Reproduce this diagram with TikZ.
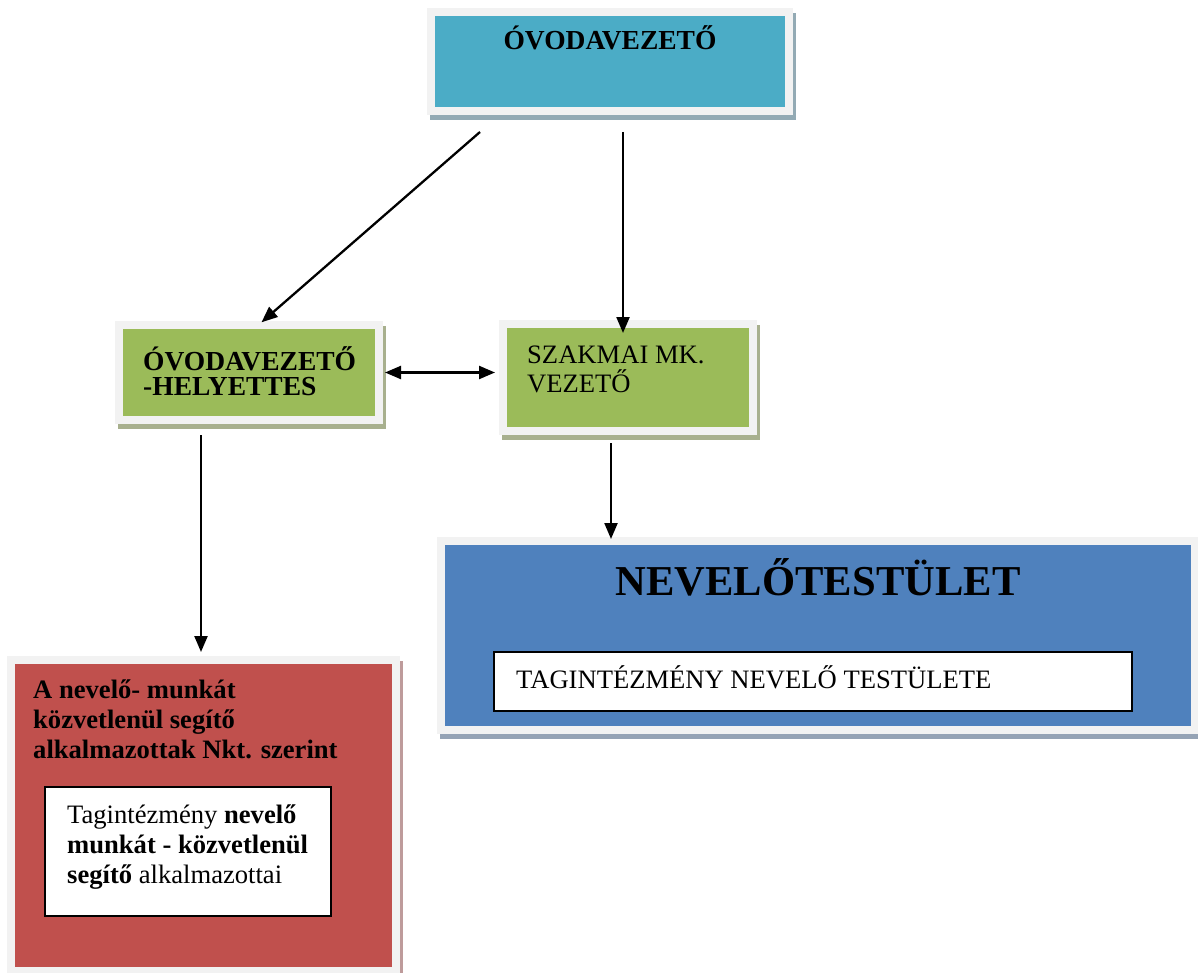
\documentclass[tikz,border=0pt]{standalone}
\usepackage{fontspec}
\setmainfont{Liberation Serif}
\usetikzlibrary{
    arrows.meta,
    shadows
}
\definecolor{FrameGray}{RGB}{242,242,242}
\definecolor{VezTeal}{RGB}{75,172,198}
\definecolor{VezShadow}{RGB}{147,170,180}
\definecolor{MkGreen}{RGB}{155,187,89}
\definecolor{MkShadow}{RGB}{168,176,142}
\definecolor{TestBlue}{RGB}{79,129,189}
\definecolor{TestShadow}{RGB}{149,163,181}
\definecolor{SegRed}{RGB}{192,80,77}
\definecolor{SegShadow}{RGB}{190,155,155}
\newcommand{\txtsize}[1]{\fontsize{26.6}{#1}\selectfont}

\begin{document}
\begin{tikzpicture}[
    x=1pt, y=-1pt,
    >={Triangle[length=16pt,width=13pt]},
    framebox/.style 2 args={
        rectangle, inner sep=0pt, outer sep=0pt, fill=FrameGray,
        general shadow={fill=#2, shadow xshift=3pt, shadow yshift=-5pt},
        path picture={\fill[#1]
            ([shift={(8pt,-8pt)}]path picture bounding box.north west) rectangle
            ([shift={(-8pt,8pt)}]path picture bounding box.south east);}
    },
    innerbox/.style={rectangle, draw=black, line width=1.5pt, fill=white, inner sep=0pt},
    boxtext/.style={inner sep=0pt, align=left, anchor=base west},
    conn/.style={->, line width=2.3pt}
]

\useasboundingbox (0,0) rectangle (1198,973);

\node[framebox={VezTeal}{VezShadow}, minimum width=366pt, minimum height=107pt]
    (vez) at (610,61.5) {};
\node[framebox={MkGreen}{MkShadow}, minimum width=268pt, minimum height=103pt]
    (hely) at (249,372.5) {};
\node[framebox={MkGreen}{MkShadow}, minimum width=258pt, minimum height=115pt]
    (szak) at (628,377.5) {};
\node[framebox={TestBlue}{TestShadow}, minimum width=762pt, minimum height=197pt]
    (nev) at (818,635.5) {};
\node[framebox={SegRed}{SegShadow}, minimum width=393pt, minimum height=319pt]
    (seg) at (203.5,815.5) {};

\node[innerbox, minimum width=638pt, minimum height=59pt]
    (nevtag) at (813,681.5) {};
\node[innerbox, minimum width=286pt, minimum height=129pt]
    (segtag) at (188,851.5) {};

\coordinate (vezL) at (480,132);
\coordinate (vezR) at (623,132);
\coordinate (helyD) at (201,435);
\coordinate (szakD) at (611,443);

\draw[conn, shorten >=-2pt]
    (vezL) -- ([xshift=14pt]hely.north);

\draw[conn, shorten >=-13pt]
    (vezR) -- (vezR |- szak.north);

\draw[conn, <->, shorten <=2pt, shorten >=4pt]
    (hely.east) -- (hely.east -| szak.west);

\draw[conn, shorten >=-2pt]
    (szakD) -- (szakD |- nev.north);

\draw[conn, shorten >=4pt]
    (helyD) -- (helyD |- seg.north);

\node[boxtext, anchor=base, font=\bfseries\fontsize{27.5}{30}\selectfont]
    (veztxt) at (610,50) {ÓVODAVEZETŐ};
\node[boxtext, font=\bfseries\fontsize{27.5}{25}\selectfont]
    (helytxt) at (143,395) {ÓVODAVEZETŐ\\-HELYETTES};
\node[boxtext, font=\txtsize{29}]
    (szaktxt) at (527,392) {SZAKMAI MK.\\VEZETŐ};
\node[boxtext, anchor=base, font=\bfseries\fontsize{42.6}{48}\selectfont]
    (nevtxt) at (818,595) {NEVELŐTESTÜLET};
\node[boxtext, font=\txtsize{30}]
    (nevtagtxt) at (516,688) {TAGINTÉZMÉNY NEVELŐ TESTÜLETE};
\node[boxtext, font=\bfseries\txtsize{30}]
    (segtxt) at (33,758) {A nevelő- munkát\\közvetlenül segítő\\alkalmazottak Nkt. szerint};
\node[boxtext, font=\txtsize{30}]
    (segtagtxt) at (67,883) {Tagintézmény \textbf{nevelő}\\\textbf{munkát - közvetlenül}\\\textbf{segítő} alkalmazottai};

\end{tikzpicture}
\end{document}
